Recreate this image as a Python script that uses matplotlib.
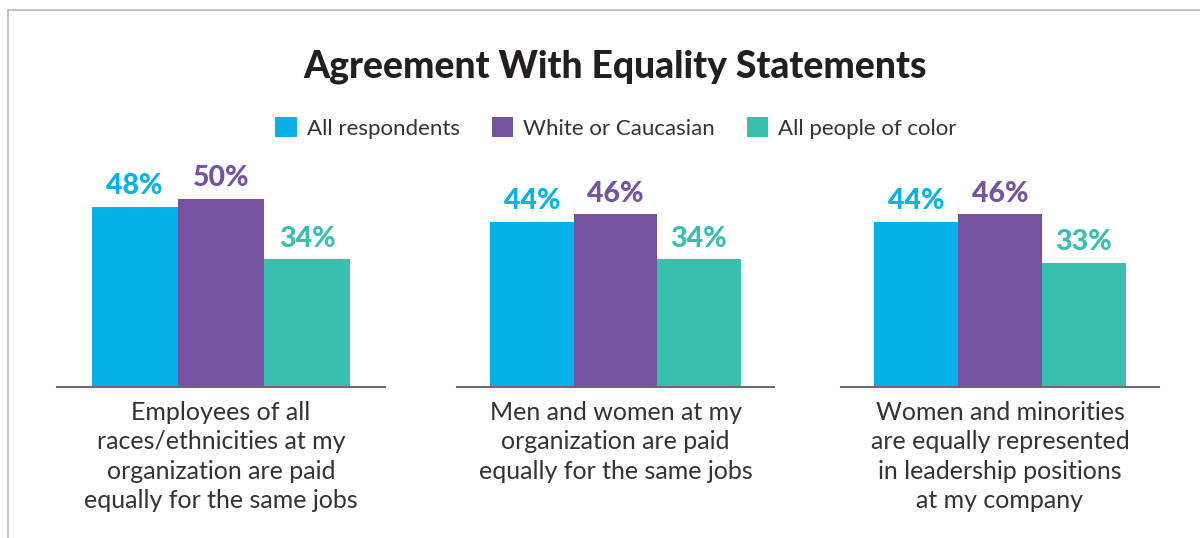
import matplotlib
matplotlib.use("Agg")
import matplotlib.pyplot as plt
from matplotlib.lines import Line2D
from matplotlib.patches import Patch

plt.rcParams['font.family'] = ['Lato', 'DejaVu Sans']

# Data
title = "Agreement With Equality Statements"
series = ["All respondents", "White or Caucasian", "All people of color"]
colors = ["#05b1e6", "#7553a0", "#38bfad"]
categories = [
    "Employees of all\nraces/ethnicities at my\norganization are paid\nequally for the same jobs",
    "Men and women at my\norganization are paid\nequally for the same jobs",
    "Women and minorities\nare equally represented\nin leadership positions\nat my company",
]
all_respondents = [48, 44, 44]
white_caucasian = [50, 46, 46]
people_of_color = [34, 34, 33]
values = [all_respondents, white_caucasian, people_of_color]

W, H = 1200, 538
fig = plt.figure(figsize=(W / 100, H / 100), dpi=100)
fig.patch.set_facecolor("white")

# Light frame on top and left edges
frame_kw = dict(color="#bdbdbd", lw=1.3, transform=fig.transFigure)
fig.add_artist(Line2D([8 / W, 1.0], [1 - 10 / H, 1 - 10 / H], **frame_kw))
fig.add_artist(Line2D([8 / W, 8 / W], [0, 1 - 10 / H], **frame_kw))

fig.text(615 / W, 1 - 67 / H, title, ha="center", va="center",
         fontsize=26.8, fontweight="black", color="#231f20")

# One small panel per statement, all on the same vertical scale
panels = [(57, 385), (457, 774), (841, 1159)]
baseline_px = 387
px_per_unit = 3.76
ymax = 60
margin = 0.4

for gi, (x0, x1) in enumerate(panels):
    ax = fig.add_axes([x0 / W, (H - baseline_px) / H, (x1 - x0) / W,
                       ymax * px_per_unit / H])
    ax.set_xlim(-0.5 - margin, 2.5 + margin)
    ax.set_ylim(0, ymax)
    for si in range(3):
        v = values[si][gi]
        ax.bar(si, v, width=1.0, color=colors[si], linewidth=0)
        ax.annotate(f"{v}%", (si, v), xytext=(0, 9), textcoords="offset points",
                    ha="center", va="baseline", fontsize=20.5, fontweight="black",
                    color=colors[si])
    for s in ["top", "right", "left"]:
        ax.spines[s].set_visible(False)
    ax.spines["bottom"].set_color("#6b6b6b")
    ax.spines["bottom"].set_linewidth(1.5)
    ax.set_xticks([])
    ax.set_yticks([])
    ax.patch.set_alpha(0)
    ax.text(0.5, -14 / (ymax * px_per_unit), categories[gi], transform=ax.transAxes,
            ha="center", va="top", fontsize=18, color="#333333", linespacing=1.34)

handles = [Patch(facecolor=c, edgecolor="none") for c in colors]
fig.legend(handles, series, loc="center", bbox_to_anchor=(616 / W, 1 - 128 / H),
           ncol=3, frameon=False, fontsize=16, handlelength=0.95, handleheight=0.95,
           handletextpad=0.45, columnspacing=1.45, labelcolor="#333333")

fig.savefig("out.png", dpi=100, facecolor="white")
